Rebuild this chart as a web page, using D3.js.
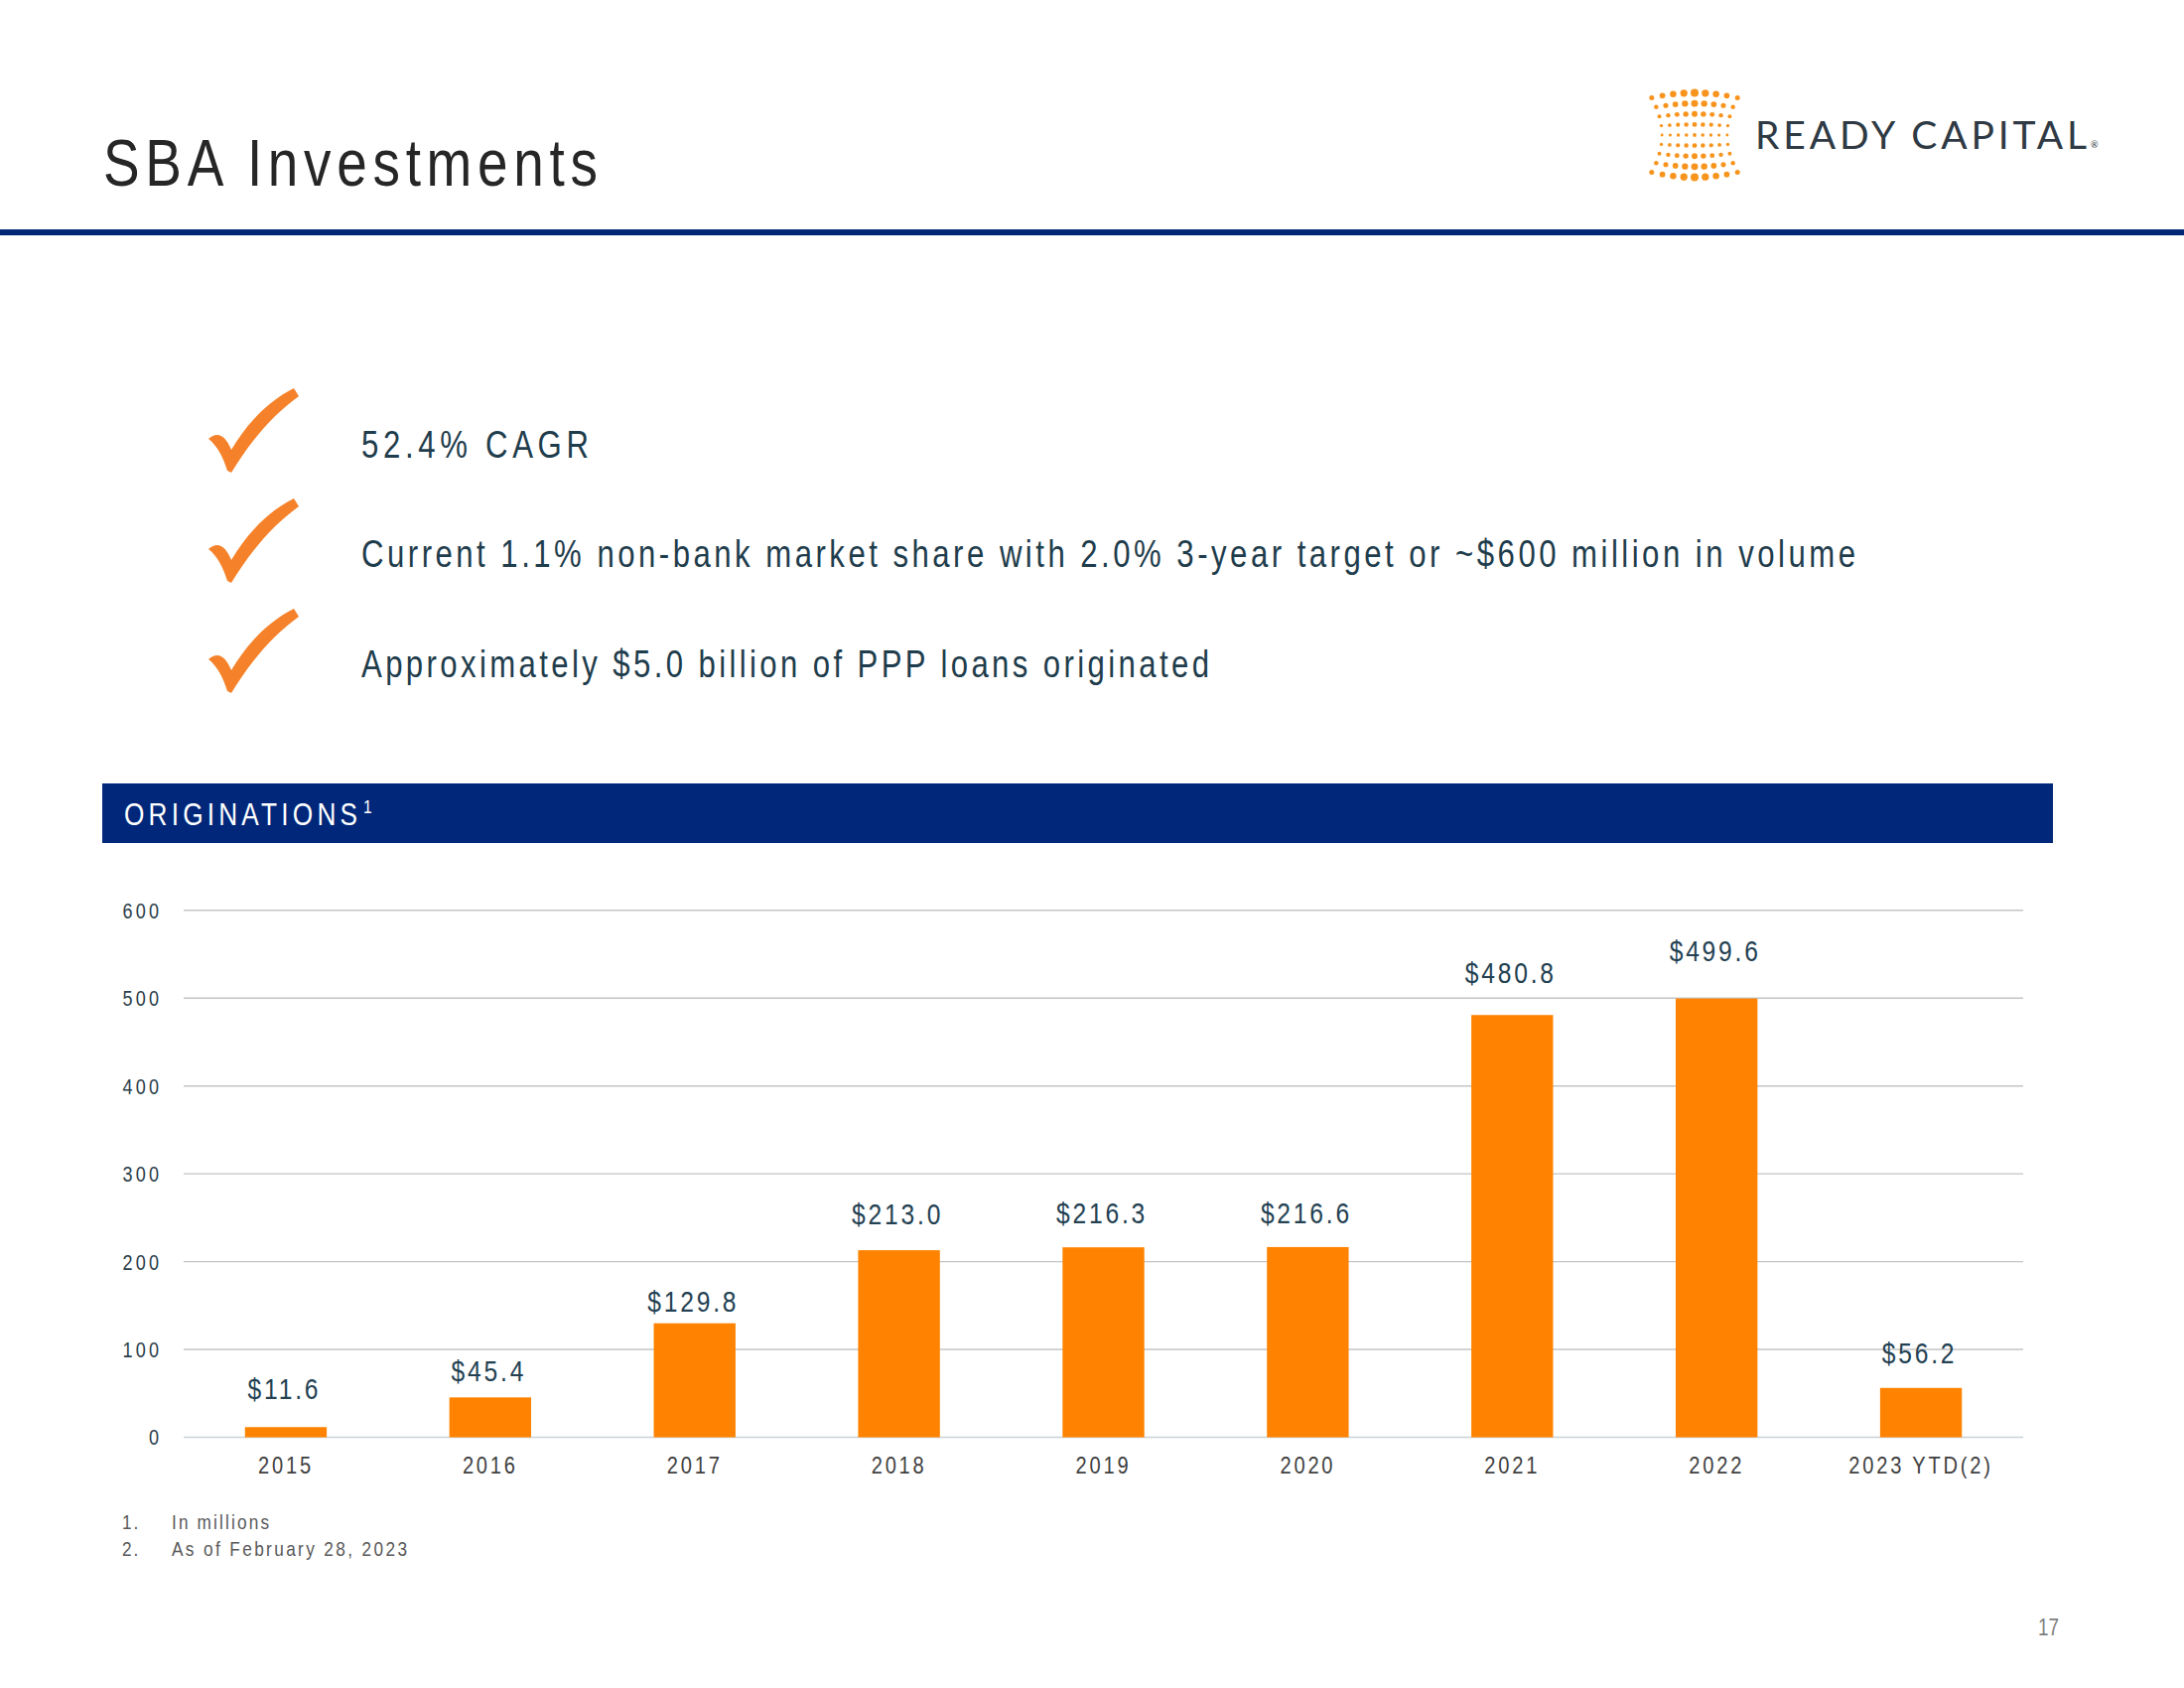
<!DOCTYPE html>
<html>
<head>
<meta charset="utf-8">
<script src="https://cdn.jsdelivr.net/npm/d3@7"></script>
<style>
  html, body { margin: 0; padding: 0; background: #ffffff; }
  svg { display: block; }
  text { font-family: "Liberation Sans", Arial, sans-serif; }
</style>
</head>
<body>
<script>
// ---- data ----
const categories = ["2015", "2016", "2017", "2018", "2019", "2020", "2021", "2022", "2023 YTD(2)"];
const values = [11.6, 45.4, 129.8, 213.0, 216.3, 216.6, 480.8, 499.6, 56.2];
const valueLabels = ["$11.6", "$45.4", "$129.8", "$213.0", "$216.3", "$216.6", "$480.8", "$499.6", "$56.2"];
const yTicks = [0, 100, 200, 300, 400, 500, 600];
const bullets = [
  "52.4% CAGR",
  "Current 1.1% non-bank market share with 2.0% 3-year target or ~$600 million in volume",
  "Approximately $5.0 billion of PPP loans originated"
];
const footnoteNums = ["1.", "2."];
const footnoteTexts = ["In millions", "As of February 28, 2023"];

// label placement gap above each bar (px), as placed in the original slide
const labelGap = [28, 16, 12, 26, 24, 24, 32, 38, 25];

// ---- helpers ----
const NARROW = 0.82; // emulate a narrow face by horizontal scaling
function ntext(parent, x, y, str, opt) {
  const t = parent.append("text")
    .attr("transform", `translate(${x},${y}) scale(${NARROW},1)`)
    .attr("font-size", opt.size).attr("fill", opt.fill)
    .attr("text-anchor", opt.anchor || "start")
    .text(str);
  if (opt.width) t.attr("textLength", opt.width / NARROW).attr("lengthAdjust", "spacing");
  if (opt.ls) t.style("letter-spacing", (opt.ls / NARROW) + "px");
  return t;
}

// ---- page ----
const W = 2200, H = 1700;
const svg = d3.select("body").append("svg").attr("width", W).attr("height", H);
svg.append("rect").attr("width", W).attr("height", H).attr("fill", "#ffffff");

// title
ntext(svg, 104, 187, "SBA Investments", {size: 67, fill: "#262626", width: 498});

// header rule
svg.append("rect").attr("x", 0).attr("y", 231).attr("width", W).attr("height", 6).attr("fill", "#002776");

// logo dots (decorative)
const logo = svg.append("g");
const lcx = 1707, lcy = 136;
const dots = [];
for (let i = -4; i <= 4; i++) {
  for (let j = -4; j <= 4; j++) {
    const fi = Math.abs(i) / 4, fj = Math.abs(j) / 4;
    const dx = lcx + i * 10.8 * (0.76 + 0.24 * fj * fj);
    const dy = lcy + j * 9.4 * (1 + 0.13 * (1 - fi * fi));
    const r = 1.0 + 3.0 * (0.3 + 0.7 * fj) * (1 - 0.5 * fi);
    dots.push({x: dx, y: dy, r});
  }
}
logo.selectAll("circle").data(dots).join("circle")
  .attr("cx", d => d.x).attr("cy", d => d.y).attr("r", d => d.r).attr("fill", "#f7941d");
logo.append("text").attr("x", 1768).attr("y", 150)
  .attr("font-size", 39).attr("fill", "#2f3a44")
  .attr("textLength", 334).attr("lengthAdjust", "spacing")
  .style("font-family", "Lato, 'Open Sans', sans-serif")
  .text("READY CAPITAL");
logo.append("text").attr("x", 2106).attr("y", 149)
  .attr("font-size", 9).attr("fill", "#2f3a44")
  .style("font-family", "Lato, sans-serif").text("®");

// checkmarks & bullets
const checkPath = "M 0 51 C 9 43, 17 47, 23 62 C 40 33, 62 12, 86 0 L 91 8 C 66 26, 43 52, 23 85 L 19 83 C 15 70, 9 58, 0 51 Z";
const bulletY = [461, 571, 682];
const bulletW = [229, 1505, 854];
bullets.forEach((b, k) => {
  svg.append("path").attr("d", checkPath)
    .attr("transform", `translate(210, ${391 + k * 111})`)
    .attr("fill", "#f5822a");
  ntext(svg, 364, bulletY[k], b, {size: 38, fill: "#1f3d4c", width: bulletW[k]});
});

// banner
svg.append("rect").attr("x", 103).attr("y", 789).attr("width", 1965).attr("height", 60).attr("fill", "#00277a");
ntext(svg, 125, 831, "ORIGINATIONS", {size: 32, fill: "#ffffff", width: 235});
ntext(svg, 366, 819, "1", {size: 19, fill: "#ffffff"});

// ---- chart ----
const x = d3.scaleBand().domain(categories).range([185, 2038]).paddingInner(0.6).paddingOuter(0.3);
const y = d3.scaleLinear().domain([0, 600]).range([1447.5, 916.8]);

const grid = svg.append("g");
grid.selectAll("line").data(yTicks).join("line")
  .attr("x1", 185).attr("x2", 2038)
  .attr("y1", d => y(d)).attr("y2", d => y(d))
  .attr("stroke", d => d === 0 ? "#c9d2da" : "#c4c4c4").attr("stroke-width", 1.4);

const yAxis = svg.append("g").attr("transform", "translate(160,0)")
  .call(d3.axisLeft(y).tickValues(yTicks).tickSize(0).tickPadding(0));
yAxis.select(".domain").remove();
yAxis.selectAll("text")
  .attr("font-size", 22).attr("fill", "#2c3e4a")
  .attr("x", 3.2 / NARROW).attr("dy", "0.34em")
  .attr("transform", `scale(${NARROW},1)`)
  .style("letter-spacing", (3.2 / NARROW) + "px");

svg.append("g").selectAll("rect").data(values).join("rect")
  .attr("x", (d, i) => x(categories[i]))
  .attr("width", x.bandwidth())
  .attr("y", d => y(d))
  .attr("height", d => y(0) - y(d))
  .attr("fill", "#ff8300");

const lab = svg.append("g");
values.forEach((d, i) => {
  ntext(lab, x(categories[i]) + x.bandwidth() / 2 - 1.5, y(d) - labelGap[i], valueLabels[i],
    {size: 30, fill: "#234152", anchor: "middle", ls: 2.8});
});

const xAxis = svg.append("g").attr("transform", "translate(0,1447.5)")
  .call(d3.axisBottom(x).tickSize(0).tickPadding(0));
xAxis.select(".domain").remove();
xAxis.selectAll("text")
  .attr("font-size", 24.5).attr("fill", "#404040")
  .attr("dy", null).attr("y", 36.5).attr("x", 0)
  .attr("transform", `scale(${NARROW},1)`)
  .style("letter-spacing", (2.8 / NARROW) + "px");

// footnotes
footnoteNums.forEach((f, k) => {
  ntext(svg, 123, 1540 + k * 27, f, {size: 21, fill: "#595959", ls: 2});
  ntext(svg, 173, 1540 + k * 27, footnoteTexts[k], {size: 21, fill: "#595959", width: [98, 237][k]});
});

// page number
ntext(svg, 2074, 1647, "17", {size: 23, fill: "#7f7f7f", anchor: "end"});
</script>
</body>
</html>
